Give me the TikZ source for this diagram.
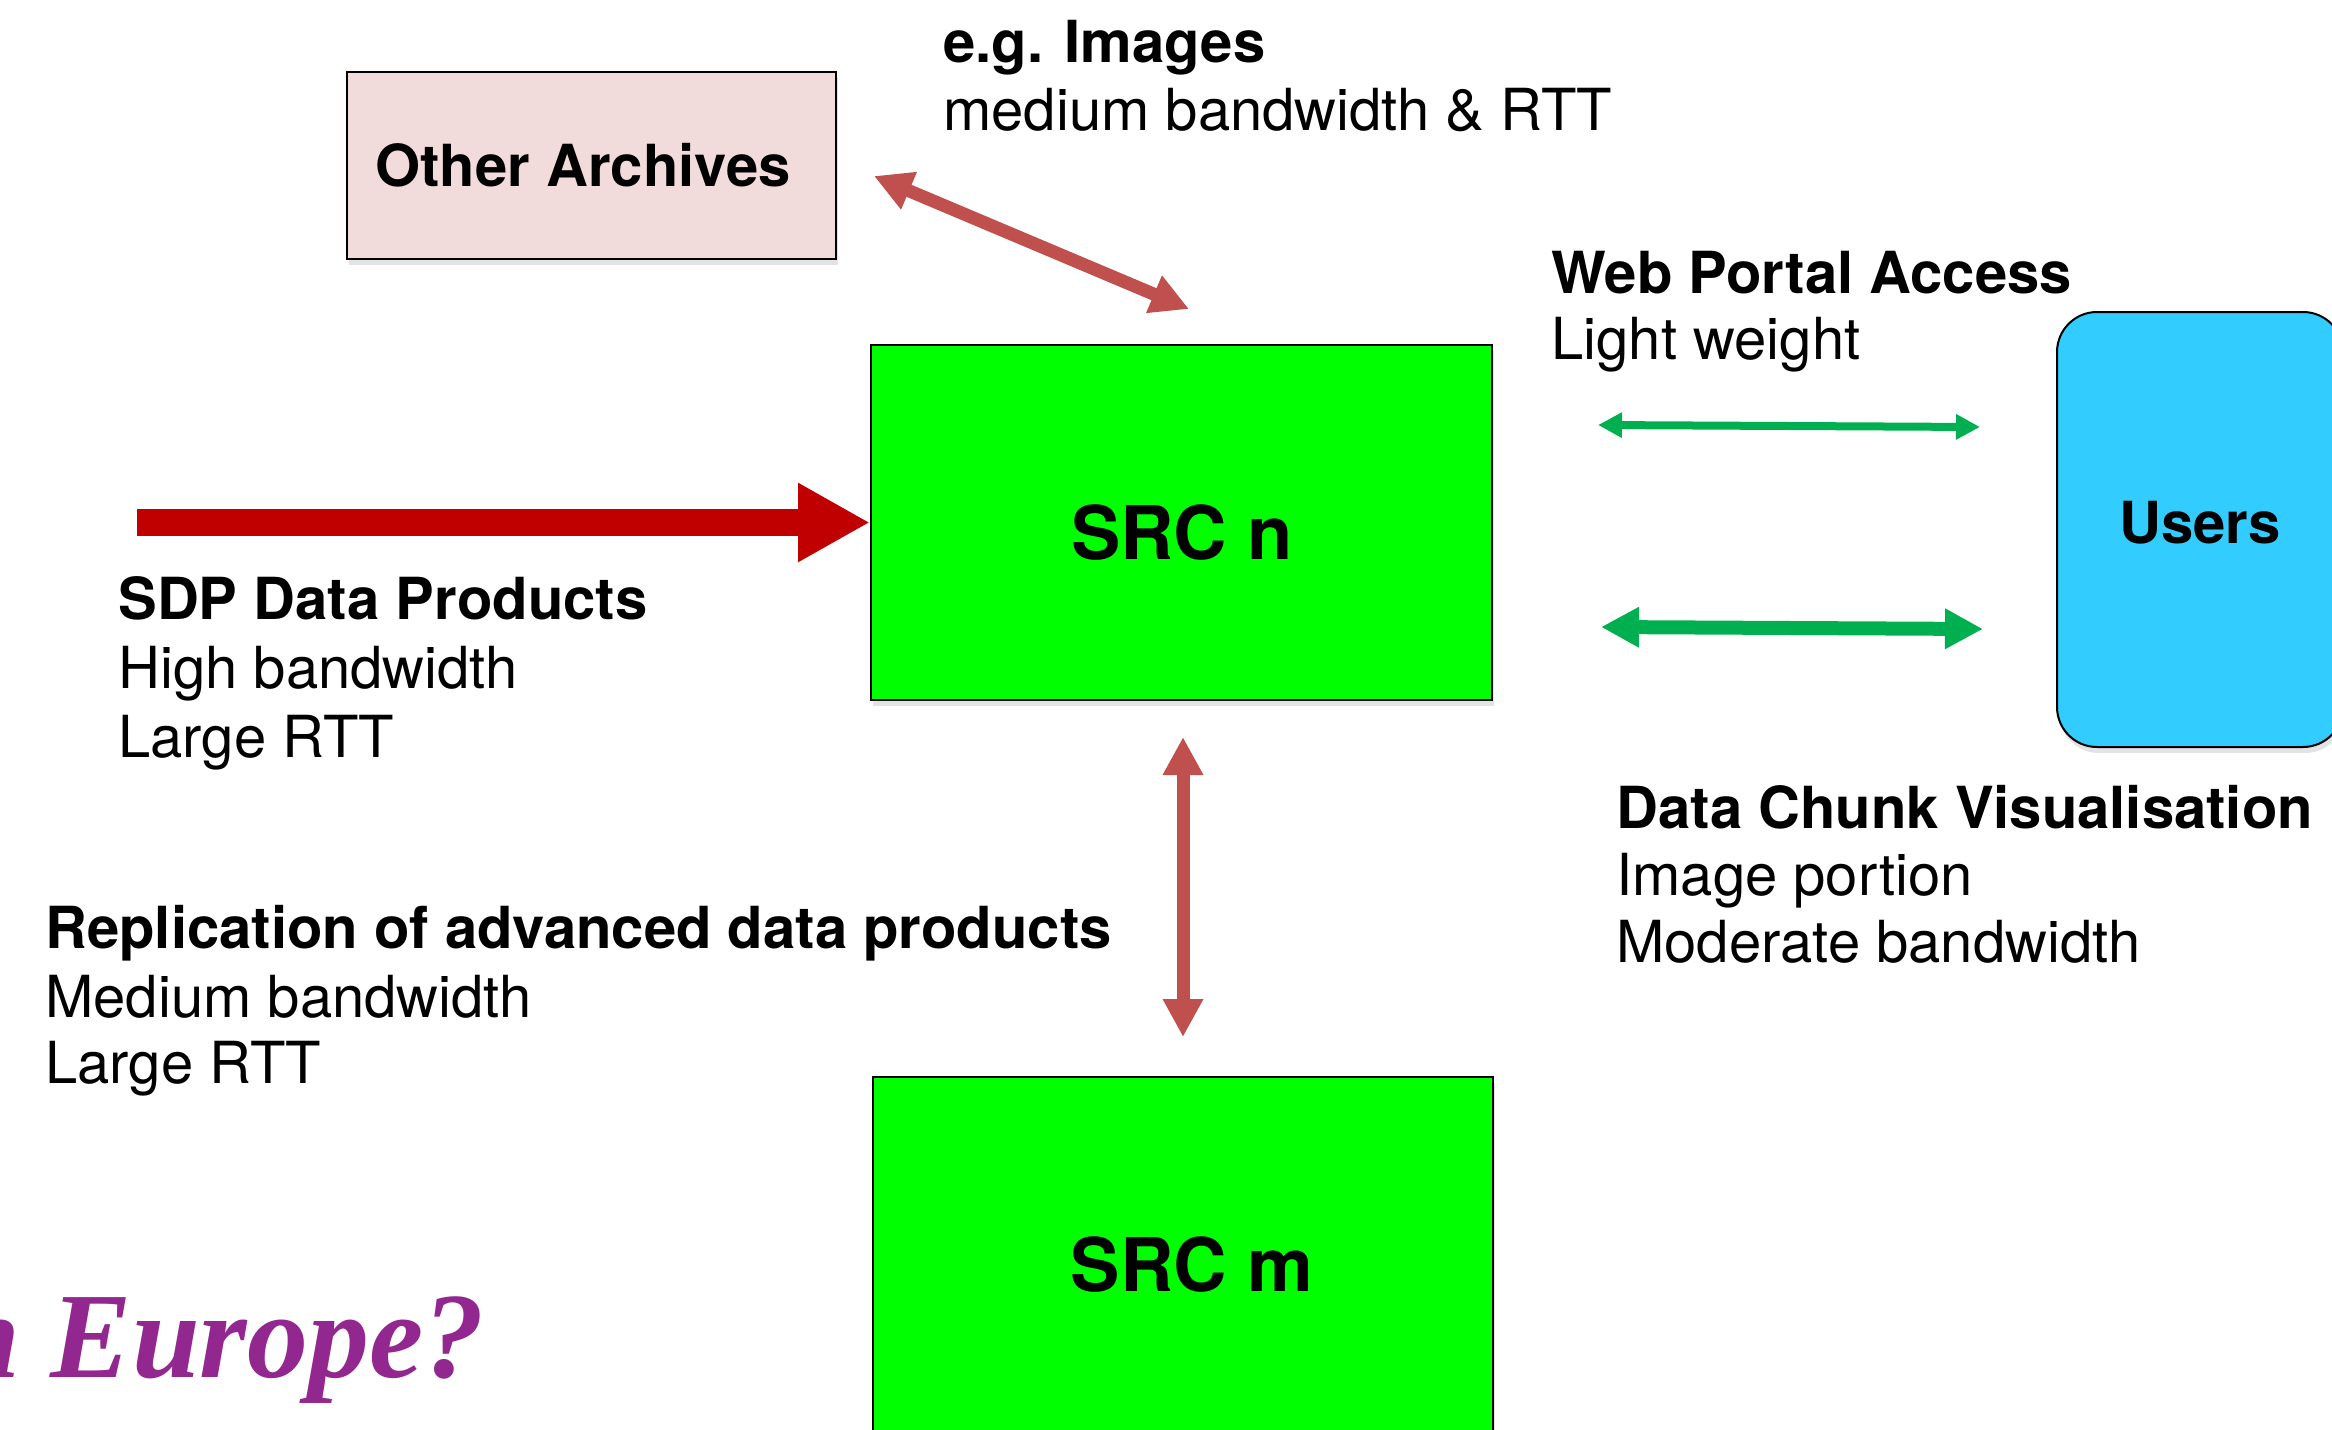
\documentclass[tikz,border=0pt]{standalone}
\usepackage{fontspec}
\setmainfont{TeX Gyre Heros}
\newfontfamily\eurofont{Liberation Serif}
\usetikzlibrary{arrows.meta,shadows}
\definecolor{archfill}{HTML}{F2DCDB}
\definecolor{srcgreen}{HTML}{00FF00}
\definecolor{userblue}{HTML}{33CCFF}
\definecolor{sdpred}{HTML}{C00000}
\definecolor{linkred}{HTML}{C0504D}
\definecolor{linkgreen}{HTML}{00B050}
\definecolor{europurple}{HTML}{92278F}
\begin{document}
\begin{tikzpicture}[x=0.5pt,y=-0.5pt,
  lbl/.style={anchor=base west, inner sep=0pt, font=\fontsize{29}{34}\selectfont},
  lblb/.style={anchor=base west, inner sep=0pt, font=\fontsize{29}{34}\selectfont\bfseries},
  boxtxt/.style={anchor=base, inner sep=0pt},
  box/.style={draw=black, line width=1pt, inner sep=0pt,
    drop shadow={shadow xshift=1pt, shadow yshift=-3pt, opacity=0.22}},
  bigarrow/.style={draw=sdpred, line width=13.5pt, -{Triangle[length=36pt,width=37pt]}},
  redlink/.style={draw=linkred, line width=6.5pt,
    {Triangle[length=19pt,width=19pt]}-{Triangle[length=19pt,width=19pt]}},
  greenthin/.style={draw=linkgreen, line width=4pt,
    {Triangle[length=12pt,width=12pt]}-{Triangle[length=12pt,width=12pt]}},
  greenthick/.style={draw=linkgreen, line width=7pt,
    {Triangle[length=19pt,width=19pt]}-{Triangle[length=19pt,width=19pt]}}]
\useasboundingbox (0,0) rectangle (2332,1429);

% boxes
\node[box, fill=archfill, minimum width=244.5pt, minimum height=93.5pt,
      font=\fontsize{29}{34}\selectfont\bfseries] (arch) at (591.5,165.5) {Other Archives\hspace*{8.5pt}};
\node[box, fill=srcgreen, minimum width=310.5pt, minimum height=177.5pt] (srcn) at (1181.5,522.5) {};
\node[boxtxt, font=\fontsize{37}{44}\selectfont\bfseries] (srcntxt) at (1182,559) {SRC n};
\node[box, fill=srcgreen, minimum width=310pt, minimum height=177.5pt] (srcm) at (1183,1254.5) {};
\node[boxtxt, font=\fontsize{37}{44}\selectfont\bfseries] (srcmtxt) at (1192,1291) {SRC m};
\node[box, fill=userblue, rounded corners=20pt, minimum width=143pt, minimum height=217.5pt] (users) at (2200,529.5) {};
\node[boxtxt, font=\fontsize{29}{34}\selectfont\bfseries] (userstxt) at (2200,543) {Users};

% labels
\node[lblb] (eg1) at (943,63) {e.g. Images};
\node[lbl]  (eg2) at (943,130) {medium bandwidth \& RTT};
\node[lblb] (web1) at (1551,293) {Web Portal Access};
\node[lbl]  (web2) at (1551,359) {Light weight};
\node[lblb] (sdp1) at (118,619) {SDP Data Products};
\node[lbl]  (sdp2) at (118,688) {High bandwidth};
\node[lbl]  (sdp3) at (118,757) {Large RTT};
\node[lblb] (rep1) at (45,948) {Replication of advanced data products};
\node[lbl]  (rep2) at (45,1017) {Medium bandwidth};
\node[lbl]  (rep3) at (45,1083) {Large RTT};
\node[lblb] (dc1) at (1616,828) {Data Chunk Visualisation};
\node[lbl]  (dc2) at (1616,895) {Image portion};
\node[lbl]  (dc3) at (1616,962) {Moderate bandwidth};
\node[anchor=base east, inner sep=0pt, text=europurple,
      font=\eurofont\fontsize{61}{70}\selectfont\bfseries\itshape] (euro) at (485,1377) {n Europe?};

% connectors
\coordinate (sdpstart) at (137,522.5);
\draw[bigarrow] (sdpstart) -- (srcn.west);

\coordinate (archend) at (874,176);
\coordinate (srcnend) at (1189,309);
\draw[redlink] (archend) -- (srcnend);

\draw[redlink, shorten <=18pt, shorten >=19.5pt] (srcn.south -| srcm.north) -- (srcm.north);

\coordinate (w1) at (1598,425);
\coordinate (w2) at (1980,427);
\draw[greenthin] (w1) -- (w2);
\coordinate (v1) at (1601,627);
\coordinate (v2) at (1983,629);
\draw[greenthick] (v1) -- (v2);
\end{tikzpicture}
\end{document}
